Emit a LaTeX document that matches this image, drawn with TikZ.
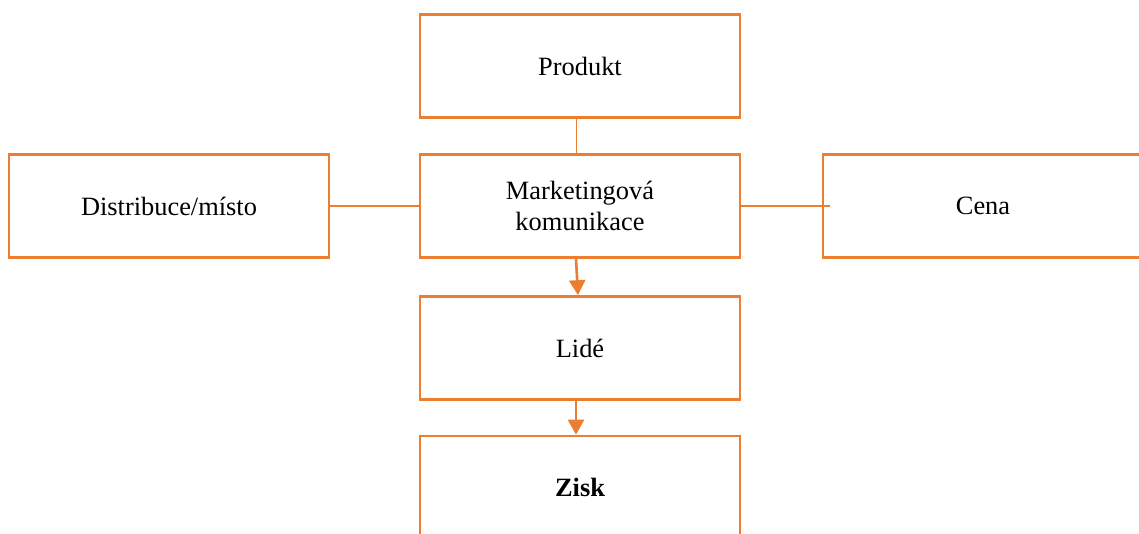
\documentclass[tikz,border=0pt]{standalone}
\usepackage{fontspec}
\setmainfont{Liberation Serif}
\usetikzlibrary{arrows.meta}
\definecolor{orng}{HTML}{ED7D31}
\begin{document}
\begin{tikzpicture}[x=0.5pt,y=-0.5pt,
  box/.style={draw=orng,line width=1.35pt,minimum width=160pt,minimum height=51.5pt,
    inner sep=0pt,align=center,text depth=0pt,font=\fontsize{13.2}{15.6}\selectfont},
  thin/.style={draw=orng,line width=0.7pt},
  arr/.style={draw=orng,fill=orng,line width=1.3pt,-{Triangle[width=8pt,length=7.5pt]}}]
\useasboundingbox (0,0) rectangle (1139,534);
\node[box] (P) at (580,66) {Produkt};
\node[box] (M) at (580,206) {Marketingová\\komunikace};
\node[box] (D) at (169,206) {Distribuce/místo};
\node[box] (C) at (983,206) {Cena};
\node[box] (L) at (580,348) {Lidé};
\node[box] (Z) at (580,487.5) {\bfseries Zisk};
\draw[thin] ([xshift=-1.75pt]P.south) -- ([xshift=-1.75pt]M.north);
\draw[thin] (D.east) -- (M.west);
\draw[thin] (M.east) -- ([xshift=4pt]C.west);
\draw[arr] ([xshift=-2pt]M.south) -- ([xshift=-1pt]L.north);
\draw[arr] ([xshift=-2pt]L.south) -- ([xshift=-2pt]Z.north);
\end{tikzpicture}
\end{document}
